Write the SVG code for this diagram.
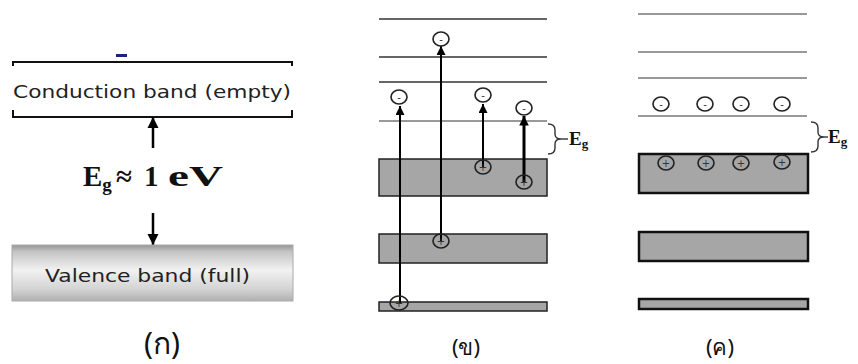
<svg xmlns="http://www.w3.org/2000/svg" width="858" height="364" viewBox="0 0 858 364">
<style>
.lvl{stroke:#333;stroke-width:1.5;fill:none}
.lvlg{stroke:#777;stroke-width:1.5;fill:none}
.band{fill:#a6a6a6;stroke:#222;stroke-width:1.5}
.band2{fill:#a6a6a6;stroke:#111;stroke-width:2.5}
.arr{stroke:#000;stroke-width:2;fill:none;marker-end:url(#ah)}
.arrA{stroke:#000;stroke-width:2.5;fill:none;marker-end:url(#ah)}
.arrT{stroke:#000;stroke-width:3;fill:none;marker-end:url(#ah2)}
.car{fill:none;stroke:#222;stroke-width:1.6}
.sgn{font-family:"DejaVu Sans",sans-serif;font-size:10px;fill:#333;text-anchor:middle}
.brace{fill:none;stroke:#333;stroke-width:1.4}
.eg{font-family:"Liberation Serif",serif;font-weight:bold;font-size:19px;fill:#111}
.sans{font-family:"DejaVu Sans","Liberation Sans",sans-serif;fill:#222}
.cap{font-family:"Noto Sans","DejaVu Sans",sans-serif;fill:#111;text-anchor:middle}
</style>
<defs>
<marker id="ah" viewBox="0 0 10 10" refX="10" refY="5" markerWidth="4.5" markerHeight="4.5" orient="auto" markerUnits="strokeWidth"><path d="M0,0L10,5L0,10z" fill="#000"/></marker>
<marker id="ah2" viewBox="0 0 10 10" refX="10" refY="5" markerWidth="3.5" markerHeight="3.2" orient="auto" markerUnits="strokeWidth"><path d="M0,0L10,5L0,10z" fill="#000"/></marker>
<linearGradient id="vg" x1="0" y1="0" x2="0" y2="1">
<stop offset="0" stop-color="#959595"/>
<stop offset="0.12" stop-color="#c4c4c4"/>
<stop offset="0.45" stop-color="#f2f2f2"/>
<stop offset="0.8" stop-color="#d2d2d2"/>
<stop offset="1" stop-color="#b0b0b0"/>
</linearGradient>
</defs>
<rect width="858" height="364" fill="#fff"/>

<!-- Panel A -->
<g id="panelA">
<rect x="116" y="54" width="11" height="3" fill="#1a237e"/>
<g id="conduction">
<path d="M13,66V62H292V66" fill="none" stroke="#111" stroke-width="2"/>
<path d="M13,110V117H292V110" fill="none" stroke="#111" stroke-width="2"/>
<text class="sans" x="13" y="98" font-size="18" textLength="278" lengthAdjust="spacingAndGlyphs">Conduction band (empty)</text>
</g>
<g id="gapA">
<line class="arrA" x1="153" y1="148" x2="153" y2="117"/>
<text x="83" y="186" font-family="Liberation Serif,serif" font-weight="bold" font-size="29" fill="#111">E<tspan font-size="19" dy="5">g</tspan><tspan dy="-5" x="116">≈</tspan><tspan x="144">1</tspan><tspan x="168" textLength="55" lengthAdjust="spacingAndGlyphs">eV</tspan></text>
<line class="arrA" x1="153" y1="213" x2="153" y2="245"/>
</g>
<g id="valence">
<rect x="12" y="245" width="281" height="56" fill="url(#vg)" stroke="#aaa" stroke-width="1"/>
<text class="sans" x="45" y="282" font-size="18" textLength="205" lengthAdjust="spacingAndGlyphs">Valence band (full)</text>
</g>
<text class="cap" x="162" y="354" font-size="30">(ก)</text>
</g>

<!-- Panel B -->
<g id="panelB">
<g id="levelsB">
<line class="lvl" x1="379" y1="19" x2="547" y2="19"/>
<line class="lvl" x1="379" y1="57" x2="547" y2="57"/>
<line class="lvl" x1="379" y1="82" x2="547" y2="82"/>
<line class="lvlg" x1="379" y1="121" x2="547" y2="121"/>
<rect class="band" x="379" y="159" width="168" height="37"/>
<rect class="band" x="379" y="234" width="168" height="29"/>
<rect class="band" x="379" y="302" width="168" height="9"/>
</g>
<g id="transitionsB">
<line class="arr" x1="400" y1="303" x2="400" y2="106"/>
<line class="arr" x1="441" y1="241" x2="441" y2="46"/>
<line class="arr" x1="483" y1="167" x2="483" y2="104"/>
<line class="arrT" x1="524" y1="182" x2="524" y2="116"/>
</g>
<g id="carriersB">
<ellipse class="car" cx="399" cy="97" rx="8" ry="7"/><text class="sgn" x="399" y="101">-</text>
<ellipse class="car" cx="441" cy="39" rx="8" ry="7"/><text class="sgn" x="441" y="43">-</text>
<ellipse class="car" cx="483" cy="95" rx="8" ry="7"/><text class="sgn" x="483" y="99">-</text>
<ellipse class="car" cx="524" cy="108" rx="8" ry="7"/><text class="sgn" x="524" y="112">-</text>
<ellipse class="car" cx="483" cy="167" rx="8" ry="7"/><text class="sgn" x="483" y="171">+</text>
<ellipse class="car" cx="524" cy="182" rx="8" ry="7"/><text class="sgn" x="524" y="186">+</text>
<ellipse class="car" cx="441" cy="241" rx="8" ry="7"/><text class="sgn" x="441" y="245">+</text>
<ellipse class="car" cx="399" cy="303" rx="9" ry="7"/><text class="sgn" x="399" y="307">+</text>
</g>
<g id="gapB">
<path class="brace" d="M548,124Q555,124 555,130V134Q555,139 561,139Q555,139 555,144V148Q555,154 548,154"/>
<line class="brace" x1="561" y1="139" x2="568" y2="139"/>
<text class="eg" x="569" y="145">E<tspan font-size="13" dy="3">g</tspan></text>
</g>
<text class="cap" x="466" y="355" font-size="22">(ข)</text>
</g>

<!-- Panel C -->
<g id="panelC">
<g id="levelsC">
<line class="lvlg" x1="638" y1="14" x2="807" y2="14"/>
<line class="lvlg" x1="638" y1="52" x2="807" y2="52"/>
<line class="lvlg" x1="638" y1="78" x2="807" y2="78"/>
<line class="lvlg" x1="638" y1="116" x2="807" y2="116"/>
<rect class="band2" x="639" y="154" width="169" height="39"/>
<rect class="band2" x="639" y="232" width="169" height="29"/>
<rect class="band2" x="639" y="299" width="169" height="10"/>
</g>
<g id="carriersC">
<ellipse class="car" cx="661" cy="104" rx="8" ry="7"/><text class="sgn" x="661" y="108">-</text>
<ellipse class="car" cx="705" cy="104" rx="8" ry="7"/><text class="sgn" x="705" y="108">-</text>
<ellipse class="car" cx="741" cy="104" rx="8" ry="7"/><text class="sgn" x="741" y="108">-</text>
<ellipse class="car" cx="782" cy="104" rx="8" ry="7"/><text class="sgn" x="782" y="108">-</text>
<ellipse class="car" cx="666" cy="163" rx="8" ry="7"/><text class="sgn" x="666" y="167">+</text>
<ellipse class="car" cx="706" cy="163" rx="8" ry="7"/><text class="sgn" x="706" y="167">+</text>
<ellipse class="car" cx="741" cy="163" rx="8" ry="7"/><text class="sgn" x="741" y="167">+</text>
<ellipse class="car" cx="782" cy="162" rx="8" ry="7"/><text class="sgn" x="782" y="166">+</text>
</g>
<g id="gapC">
<path class="brace" d="M811,122Q818,122 818,128V132Q818,137 824,137Q818,137 818,142V146Q818,152 811,152"/>
<line class="brace" x1="824" y1="137" x2="828" y2="137"/>
<text class="eg" x="828" y="143">E<tspan font-size="13" dy="3">g</tspan></text>
</g>
<text class="cap" x="720" y="355" font-size="22">(ค)</text>
</g>
</svg>
